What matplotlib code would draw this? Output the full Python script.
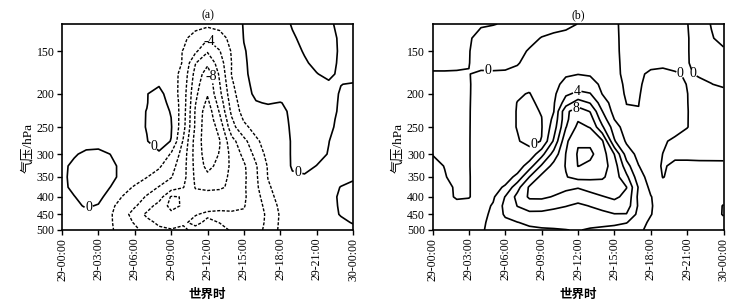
import numpy as np
import matplotlib
matplotlib.use('Agg')
import matplotlib.pyplot as plt
from matplotlib.ticker import NullLocator

plt.rcParams['font.family'] = ['Liberation Serif', 'Noto Sans CJK SC']

# grid: hourly columns from 29-00:00 to 30-00:00, pressure rows (hPa)
hours = np.arange(0, 25)
pressure = [125, 137.5, 150, 162.5, 175, 187.5, 200, 212.5, 225, 237.5, 250,
            275, 300, 325, 350, 375, 400, 425, 450, 475, 500]

time_ticks = [0, 3, 6, 9, 12, 15, 18, 21, 24]
time_labels = ['29-00:00', '29-03:00', '29-06:00', '29-09:00', '29-12:00',
               '29-15:00', '29-18:00', '29-21:00', '30-00:00']
p_ticks = [150, 200, 250, 300, 350, 400, 450, 500]

# panel (a) values, one row per pressure level
field_a = np.array([
    [-0.6, -0.6, -0.7, -0.7, -0.8, -0.8, -0.9, -1.0, -1.2, -1.3, -1.3, -1.45, -1.5, -1.35, -0.9, 0.1, 0.6, 0.8, 0.5, -0.1, -0.4, -0.5, -0.2, 0.3, 0.5],
    [-0.6, -0.6, -0.7, -0.7, -0.8, -0.8, -0.9, -1.0, -1.2, -1.4, -1.7, -2.6, -3.8, -2.8, -1.4, 0.05, 0.6, 0.8, 0.6, 0.15, -0.3, -0.5, -0.4, 0.2, 0.5],
    [-0.6, -0.6, -0.7, -0.7, -0.8, -0.8, -0.9, -1.0, -1.2, -1.5, -2.05, -3.6, -5.8, -4.1, -1.8, -0.1, 0.5, 0.8, 0.7, 0.4, -0.1, -0.5, -0.5, 0.2, 0.5],
    [-0.55, -0.55, -0.65, -0.65, -0.75, -0.75, -0.85, -0.9, -1.0, -1.3, -2.1, -5.9, -7.6, -5.0, -1.95, -0.2, 0.55, 0.85, 0.75, 0.5, 0.15, -0.3, -0.45, 0.25, 0.55],
    [-0.5, -0.5, -0.6, -0.6, -0.7, -0.7, -0.8, -0.8, -0.9, -1.2, -2.6, -6.7, -9.0, -5.7, -1.9, -0.3, 0.6, 0.9, 0.8, 0.6, 0.4, 0.05, -0.3, 0.3, 0.6],
    [-0.5, -0.5, -0.6, -0.6, -0.7, -0.65, -0.6, -0.4, -0.15, -1.0, -2.8, -7.2, -9.5, -6.1, -2.3, -0.45, 0.45, 0.75, 0.7, 0.6, 0.55, 0.35, 0.2, 0.02, -0.1],
    [-0.5, -0.5, -0.6, -0.6, -0.7, -0.6, -0.4, -0.05, 0.5, -0.8, -3.0, -7.6, -9.8, -6.5, -2.7, -0.6, 0.3, 0.6, 0.6, 0.6, 0.7, 0.6, 0.4, -0.1, -0.4],
    [-0.5, -0.5, -0.6, -0.6, -0.65, -0.55, -0.35, -0.05, 0.65, -0.4, -3.0, -7.9, -10.5, -7.2, -3.1, -0.9, -0.1, 0.1, -0.05, 0.3, 0.6, 0.6, 0.4, -0.15, -0.35],
    [-0.5, -0.5, -0.6, -0.6, -0.6, -0.5, -0.3, 0.03, 0.7, -0.1, -3.1, -8.2, -11.2, -7.8, -3.5, -1.2, -0.7, -0.5, -0.25, 0.2, 0.5, 0.6, 0.4, -0.2, -0.4],
    [-0.5, -0.5, -0.6, -0.6, -0.6, -0.5, -0.32, 0.04, 0.7, 0.03, -3.2, -8.25, -11.4, -8.5, -4.2, -1.8, -0.95, -0.6, -0.32, 0.17, 0.5, 0.55, 0.3, -0.28, -0.45],
    [-0.5, -0.5, -0.6, -0.6, -0.6, -0.5, -0.35, 0.05, 0.7, 0.15, -3.3, -8.3, -11.5, -9.3, -4.7, -2.5, -1.2, -0.7, -0.4, 0.15, 0.5, 0.5, 0.25, -0.35, -0.5],
    [-0.5, -0.5, -0.6, -0.6, -0.6, -0.5, -0.4, -0.05, 0.6, -0.05, -4.2, -8.8, -11.3, -10.1, -6.7, -4.6, -2.4, -1.0, -0.5, 0.1, 0.4, 0.35, 0.02, -0.4, -0.6],
    [-0.4, -0.15, 0.3, 0.4, -0.02, -0.4, -0.5, -0.3, -0.2, -2.2, -4.9, -8.8, -11.0, -9.9, -7.4, -5.5, -3.4, -1.3, -0.5, 0.1, 0.35, 0.3, -0.05, -0.4, -0.6],
    [-0.3, 0.3, 0.8, 0.8, 0.3, -0.3, -0.5, -0.6, -1.7, -3.3, -5.2, -8.6, -10.6, -9.4, -7.6, -6.3, -4.2, -1.8, -0.7, 0.12, 0.25, -0.02, -0.4, -0.6, -0.7],
    [-0.3, 0.4, 0.9, 0.9, 0.4, -0.4, -0.8, -1.95, -2.9, -3.9, -5.3, -8.4, -9.5, -8.9, -7.5, -6.4, -4.3, -1.9, -0.8, -0.15, -0.1, -0.4, -0.6, -0.5, -0.3],
    [-0.3, 0.3, 0.8, 0.6, -0.02, -1.0, -2.3, -3.1, -4.1, -5.0, -5.9, -8.1, -8.4, -8.3, -7.6, -6.3, -4.4, -2.3, -1.0, -0.6, -0.6, -0.6, -0.5, 0.05, 0.5],
    [-0.5, -0.05, 0.5, 0.4, -0.6, -2.1, -3.0, -4.2, -5.0, -8.2, -7.9, -7.4, -7.2, -7.0, -6.8, -6.3, -4.7, -2.8, -1.2, -0.7, -0.6, -0.6, -0.4, 0.2, 0.6],
    [-0.5, -0.3, 0.15, -0.1, -1.5, -2.9, -3.8, -5.0, -6.9, -8.5, -7.8, -7.0, -6.6, -6.5, -6.5, -6.1, -5.0, -3.2, -1.6, -0.8, -0.6, -0.6, -0.4, 0.15, 0.5],
    [-0.5, -0.5, -0.4, -0.8, -1.8, -3.2, -4.8, -6.4, -7.4, -7.6, -6.8, -6.1, -5.7, -5.6, -5.7, -5.8, -5.0, -3.6, -1.8, -0.9, -0.6, -0.6, -0.5, 0.1, 0.4],
    [-0.5, -0.5, -0.6, -1.0, -1.8, -3.0, -4.2, -5.4, -6.4, -6.6, -6.3, -5.5, -6.4, -5.95, -5.6, -5.3, -4.8, -3.6, -1.7, -0.9, -0.6, -0.6, -0.5, -0.3, 0.1],
    [-0.5, -0.5, -0.6, -1.0, -1.8, -2.6, -3.5, -4.8, -5.6, -5.9, -5.6, -6.6, -7.0, -6.6, -5.8, -5.0, -4.6, -3.5, -1.6, -0.8, -0.6, -0.6, -0.6, -0.5, -0.4],
])

# panel (b) values
field_b = np.array([
    [0.3, 0.3, 0.3, 0.3, 0.1, 0.05, -0.1, -0.4, -0.5, -0.5, -0.4, -0.25, 0.02, 0.3, 0.3, 0.1, -0.2, -0.4, -0.5, -0.5, -0.4, -0.02, 0.3, -0.03, -0.3],
    [0.35, 0.35, 0.3, 0.1, -0.3, -0.55, -0.55, -0.5, -0.3, 0.05, 0.25, 0.35, 0.45, 0.45, 0.4, 0.15, -0.25, -0.5, -0.6, -0.6, -0.45, -0.05, 0.3, 0.05, -0.2],
    [0.4, 0.4, 0.3, 0.05, -0.5, -0.7, -0.6, -0.3, 0.1, 0.4, 0.6, 0.7, 0.8, 0.7, 0.5, 0.2, -0.3, -0.6, -0.7, -0.7, -0.5, -0.05, 0.3, 0.4, 0.1],
    [0.25, 0.25, 0.2, 0.02, -0.3, -0.45, -0.35, -0.08, 0.35, 0.7, 1.0, 1.25, 1.4, 1.3, 0.9, 0.25, -0.3, -0.45, -0.3, -0.25, -0.3, -0.05, 0.25, 0.35, 0.25],
    [-0.1, -0.1, -0.1, -0.02, 0.15, 0.2, 0.2, 0.3, 0.6, 1.0, 1.4, 1.8, 1.95, 1.8, 1.2, 0.3, -0.3, -0.2, 0.2, 0.3, 0.1, -0.1, 0.1, 0.2, 0.3],
    [-0.15, -0.15, -0.15, -0.04, 0.22, 0.3, 0.25, 0.2, 0.25, 0.8, 1.5, 2.5, 3.2, 2.8, 1.6, 0.55, -0.25, -0.15, 0.4, 0.5, 0.35, -0.03, -0.2, -0.02, 0.15],
    [-0.2, -0.2, -0.2, -0.05, 0.3, 0.4, 0.3, 0.1, -0.05, 0.6, 1.6, 3.7, 4.4, 4.1, 1.95, 0.8, -0.2, -0.1, 0.6, 0.7, 0.6, 0.02, -0.4, -0.5, -0.3],
    [-0.25, -0.25, -0.22, -0.05, 0.35, 0.45, 0.35, -0.02, -0.25, 0.3, 1.8, 5.0, 7.0, 5.9, 3.0, 1.1, -0.02, -0.02, 0.6, 0.7, 0.6, 0.03, -0.45, -0.55, -0.45],
    [-0.3, -0.3, -0.25, -0.05, 0.4, 0.5, 0.4, -0.05, -0.4, 0.1, 1.95, 7.6, 9.0, 7.9, 4.05, 1.3, 0.1, 0.03, 0.6, 0.7, 0.6, 0.05, -0.5, -0.6, -0.6],
    [-0.3, -0.32, -0.28, -0.05, 0.42, 0.5, 0.4, -0.05, -0.45, -0.05, 2.5, 7.5, 9.8, 9.0, 5.1, 1.98, 0.5, 0.3, 0.65, 0.7, 0.6, 0.05, -0.55, -0.65, -0.6],
    [-0.3, -0.35, -0.3, -0.05, 0.45, 0.5, 0.4, -0.05, -0.5, -0.1, 3.0, 7.9, 10.5, 9.9, 6.3, 3.0, 0.9, 0.5, 0.7, 0.7, 0.6, 0.05, -0.6, -0.7, -0.6],
    [-0.2, -0.35, -0.35, -0.05, 0.5, 0.5, 0.3, 0.1, -0.4, 0.05, 4.3, 9.6, 11.8, 11.6, 10.3, 4.2, 1.7, 0.8, 0.7, 0.2, -0.3, -0.6, -0.7, -0.7, -0.6],
    [-0.02, -0.3, -0.35, -0.05, 0.5, 0.6, 0.7, 0.6, 0.6, 3.3, 6.8, 10.05, 12.2, 12.4, 11.0, 7.95, 3.1, 1.4, 0.8, -0.02, -0.4, -0.6, -0.7, -0.6, -0.5],
    [0.2, -0.02, -0.3, -0.05, 0.5, 0.6, 0.7, 0.8, 3.1, 6.3, 8.7, 10.1, 12.05, 11.6, 10.9, 9.0, 4.8, 2.05, 1.0, -0.2, 0.4, 0.6, 0.6, 0.5, 0.4],
    [0.4, 0.05, -0.25, -0.05, 0.4, 0.6, 1.0, 2.6, 6.05, 8.6, 9.2, 9.9, 10.6, 10.5, 10.3, 9.0, 6.5, 2.8, 1.2, -0.05, 0.4, 0.6, 0.7, 0.6, 0.5],
    [0.5, 0.3, -0.15, -0.05, 0.4, 1.2, 2.3, 5.3, 8.3, 8.8, 8.7, 8.4, 8.1, 8.6, 8.9, 8.8, 8.05, 3.8, 1.5, 0.6, 0.6, 0.6, 0.6, 0.5, 0.4],
    [0.5, 0.4, -0.15, -0.1, 0.8, 1.7, 4.1, 6.6, 8.3, 8.3, 7.9, 7.3, 7.1, 7.4, 7.9, 8.3, 7.6, 3.5, 2.1, 0.8, 0.6, 0.6, 0.5, 0.4, 0.3],
    [0.5, 0.5, 0.4, 0.6, 1.2, 2.2, 4.6, 6.05, 6.9, 7.0, 6.6, 6.1, 5.5, 6.1, 6.7, 7.3, 7.1, 3.7, 2.2, 0.9, 0.6, 0.5, 0.5, 0.4, -0.05],
    [0.5, 0.6, 0.7, 1.0, 1.3, 2.5, 4.3, 5.2, 5.5, 5.4, 5.0, 4.7, 4.6, 4.9, 5.4, 5.9, 5.9, 3.4, 2.1, 0.9, 0.6, 0.5, 0.4, 0.3, -0.05],
    [0.4, 0.5, 0.6, 1.0, 1.6, 2.6, 3.5, 3.95, 4.4, 4.5, 4.4, 4.3, 4.3, 4.3, 4.4, 4.4, 4.1, 2.9, 1.6, 0.8, 0.6, 0.5, 0.4, 0.3, 0.2],
    [0.3, 0.4, 0.6, 1.0, 1.8, 2.5, 3.1, 3.4, 3.6, 3.8, 3.9, 3.98, 4.05, 3.9, 3.7, 3.4, 3.0, 2.4, 1.4, 0.8, 0.6, 0.5, 0.4, 0.3, 0.2],
])

levels_a = [-10, -8, -6, -4, -2, 0]
levels_b = [0, 2, 4, 6, 8, 10, 12]

# where the contour labels sit (hour, hPa)
labels_a = [(12.1, 141), (12.0, 179), (7.4, 289), (2.2, 430), (19.4, 347)]
labels_b = [(4.6, 173), (8.3, 279), (12.0, 199), (12.0, 227), (20.4, 176), (21.2, 176)]

fig = plt.figure(figsize=(7.37, 3.08), dpi=100)
ax_a = fig.add_axes([62 / 737, 1 - 230 / 308, 291 / 737, 206 / 308])
ax_b = fig.add_axes([432.5 / 737, 1 - 230 / 308, 291 / 737, 206 / 308])


def draw(ax, field, levels, title, labels):
    styles = ['solid' if lv >= 0 else (0, (2.2, 1.2)) for lv in levels]
    widths = [1.2 if lv >= 0 else 1.0 for lv in levels]
    cs = ax.contour(hours, pressure, field, levels=levels, colors='black',
                    linewidths=widths, linestyles=styles)
    ax.set_yscale('log')
    ax.set_ylim(500, 125)
    ax.set_xlim(0, 24)
    ax.yaxis.set_minor_locator(NullLocator())
    ax.set_yticks(p_ticks)
    ax.set_yticklabels([str(p) for p in p_ticks], fontsize=8.5)
    ax.set_xticks(time_ticks)
    ax.set_xticklabels(time_labels, rotation=90, fontsize=8.5)
    ax.tick_params(direction='out', length=3.5, width=1.0, pad=2)
    for sp in ax.spines.values():
        sp.set_linewidth(1.2)
    ax.set_title(title, fontsize=8.5, pad=4)
    ax.set_ylabel('气压/hPa', fontsize=9.5, va='center')
    ax.yaxis.set_label_coords(-0.118, 0.40)
    ax.set_xlabel('世界时', fontsize=9, fontweight='bold', va='center')
    ax.xaxis.set_label_coords(0.5, -0.316)
    texts = ax.clabel(cs, manual=labels, fmt='%d', inline=True, fontsize=10,
                      inline_spacing=1)
    for t in texts:
        t.set_rotation(0)


draw(ax_a, field_a, levels_a, '(a)', labels_a)
draw(ax_b, field_b, levels_b, '(b)', labels_b)

fig.savefig('out.png', dpi=100)
